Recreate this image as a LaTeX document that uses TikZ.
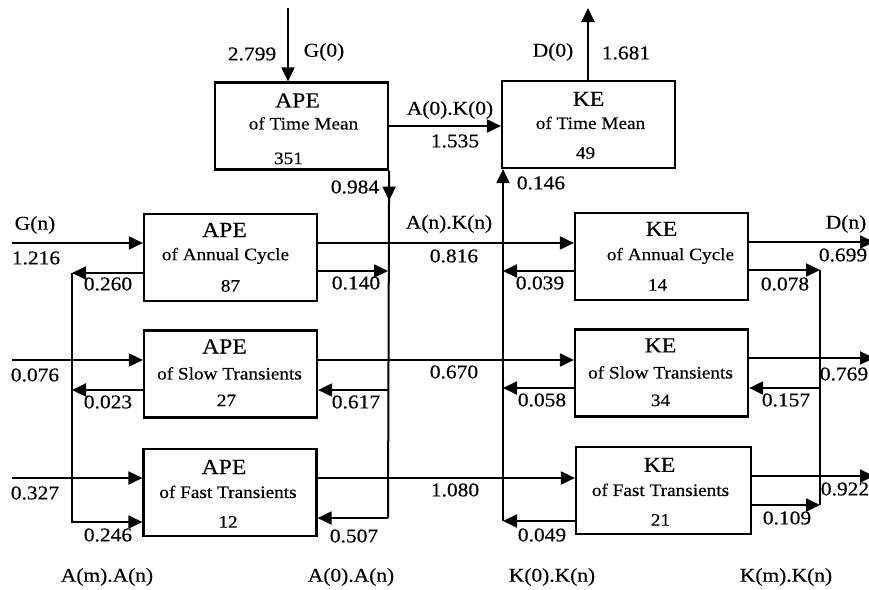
\documentclass[tikz,border=0pt]{standalone}
\usepackage{fontspec}
\setmainfont[FakeStretch=1.1,FakeBold=0.4]{Liberation Serif}
\usetikzlibrary{arrows.meta,calc}
\begin{document}
\begin{tikzpicture}[x=1pt,y=-1pt,
  box/.style={draw,line width=2.2pt,minimum width=173pt,minimum height=87pt,inner sep=0pt},
  flow/.style={line width=2pt},
  arr/.style={flow,-{Triangle[length=14pt,width=13pt]}},
  lab/.style={font=\fontsize{19.5}{21}\selectfont,inner sep=0pt},
  ttl/.style={font=\fontsize{21.5}{23}\selectfont,inner sep=0pt},
  sub/.style={font=\fontsize{17.5}{19}\selectfont,inner sep=0pt},
  val/.style={font=\fontsize{17.5}{19}\selectfont,inner sep=0pt}]
\useasboundingbox (0,0) rectangle (869,589);
\clip (0,0) rectangle (869,589);
% boxes
\node[box] (apeT) at (301.5,126) {};
\node[box] (keT) at (588.5,124.5) {};
\node[box] (apeA) at (230.5,257.5) {};
\node[box] (apeS) at (230.5,374) {};
\node[box] (apeF) at (230,492.5) {};
\node[box] (keA) at (661.5,256.5) {};
\node[box] (keS) at (661.5,373) {};
\node[box,minimum width=175pt] (keF) at (663.5,490.5) {};
% box texts
\node[ttl] (tApeT) at ($(apeT.north)+(-4,19)$) {APE};
\node[sub] (sApeT) at ($(apeT.north)+(2,42)$) {of Time Mean};
\node[val] (vApeT) at ($(apeT.north)+(-13,77)$) {351};
\node[ttl] (tKeT) at ($(keT.north)+(0,19)$) {KE};
\node[sub] (sKeT) at ($(keT.north)+(2,43)$) {of Time Mean};
\node[val] (vKeT) at ($(keT.north)+(-3,73)$) {49};
\node[ttl] (tApeA) at ($(apeA.north)+(-6,17)$) {APE};
\node[sub] (sApeA) at ($(apeA.north)+(-5,43)$) {of Annual Cycle};
\node[val] (vApeA) at ($(apeA.north)+(0,73)$) {87};
\node[ttl] (tApeS) at ($(apeS.north)+(-6,17)$) {APE};
\node[sub] (sApeS) at ($(apeS.north)+(-1,44)$) {of Slow Transients};
\node[val] (vApeS) at ($(apeS.north)+(-4,71)$) {27};
\node[ttl] (tApeF) at ($(apeF.north)+(-6,19)$) {APE};
\node[sub] (sApeF) at ($(apeF.north)+(-2,44)$) {of Fast Transients};
\node[val] (vApeF) at ($(apeF.north)+(-2,74)$) {12};
\node[ttl] (tKeA) at ($(keA.north)+(0,17)$) {KE};
\node[sub] (sKeA) at ($(keA.north)+(9,44)$) {of Annual Cycle};
\node[val] (vKeA) at ($(keA.north)+(-4,73)$) {14};
\node[ttl] (tKeS) at ($(keS.north)+(-1,17)$) {KE};
\node[sub] (sKeS) at ($(keS.north)+(-1,44)$) {of Slow Transients};
\node[val] (vKeS) at ($(keS.north)+(-1,72)$) {34};
\node[ttl] (tKeF) at ($(keF.north)+(-4,19)$) {KE};
\node[sub] (sKeF) at ($(keF.north)+(-3,44)$) {of Fast Transients};
\node[val] (vKeF) at ($(keF.north)+(-3,74)$) {21};
% coordinates
\coordinate (g0) at (288,8);
\coordinate (d0) at (588,8);
\coordinate (rbot) at (388,518);
\coordinate (rA) at (388,271);
\coordinate (rS) at (388,390);
\coordinate (inA) at (12,243);
\coordinate (inS) at (12,360);
\coordinate (inF) at (12,478);
\coordinate (outA) at (874,242);
\coordinate (outS) at (874,358);
\coordinate (outF) at (874,476);
\coordinate (la) at (72,273);
\coordinate (ls) at (72,390);
\coordinate (lb) at (72,522);
\coordinate (kA) at (503,271);
\coordinate (kS) at (503,388);
\coordinate (kF) at (503,521);
\coordinate (mA) at (820,270);
\coordinate (mS) at (820,388);
\coordinate (mF) at (820,505);
% time mean flows
\draw[arr] (g0) -- (g0 |- apeT.north);
\draw[arr] (apeT.east) -- (apeT.east -| keT.west);
\draw[arr] (d0 |- keT.north) -- (d0);
% APE right column
\draw[flow] (apeT.south east) -- (rbot);
\draw[arr] (apeT.south east) -- ++(0,30);
\draw[arr] (rA -| apeA.east) -- (rA);
\draw[arr] (rS) -- (rS -| apeS.east);
\draw[arr] (rbot) -- (rbot -| apeF.east);
% APE left column
\draw[arr] (la -| apeA.west) -- (la);
\draw[arr] (ls -| apeS.west) -- (ls);
\draw[arr] (la) -- (lb) -- (lb -| apeF.west);
% inputs
\draw[arr] (inA) -- (inA -| apeA.west);
\draw[arr] (inS) -- (inS -| apeS.west);
\draw[arr] (inF) -- (inF -| apeF.west);
% conversions
\draw[arr] (inA -| apeA.east) -- (inA -| keA.west);
\draw[arr] (inS -| apeS.east) -- (inS -| keS.west);
\draw[arr] (inF -| apeF.east) -- (inF -| keF.west);
% KE left column
\draw[arr] (kA -| keA.west) -- (kA);
\draw[arr] (kS -| keS.west) -- (kS);
\draw[arr] (kF -| keF.west) -- (kF);
\draw[arr] (kF) -- (kF |- keT.south);
% KE right column
\draw[arr] (mA -| keA.east) -- (mA);
\draw[flow] (mA) -- (mF);
\draw[arr] (mS) -- (mS -| keS.east);
\draw[arr] (mF -| keF.east) -- (mF);
% outputs
\draw[arr] (outA -| keA.east) -- (outA);
\draw[arr] (outS -| keS.east) -- (outS);
\draw[arr] (outF -| keF.east) -- (outF);
% labels
\node[lab] (l2799) at (252,54) {2.799};
\node[lab] (lG0) at (324,52) {G(0)};
\node[lab] (lA0K0) at (450,110) {A(0).K(0)};
\node[lab] (l1535) at (455,141) {1.535};
\node[lab] (lD0) at (553,52) {D(0)};
\node[lab] (l1681) at (626,53) {1.681};
\node[lab] (l0984) at (355,187) {0.984};
\node[lab] (l0146) at (541,183) {0.146};
\node[lab] (lGn) at (35,225) {G(n)};
\node[lab] (l1216) at (36,258) {1.216};
\node[lab] (lAnKn) at (449,224) {A(n).K(n)};
\node[lab] (l0816) at (454,256) {0.816};
\node[lab] (lDn) at (846,224) {D(n)};
\node[lab] (l0699) at (843,255) {0.699};
\node[lab] (l0260) at (108,284) {0.260};
\node[lab] (l0140) at (356,283) {0.140};
\node[lab] (l0039) at (540,283) {0.039};
\node[lab] (l0078) at (785,284) {0.078};
\node[lab] (l0076) at (35,375) {0.076};
\node[lab] (l0670) at (454,372) {0.670};
\node[lab] (l0769) at (844,374) {0.769};
\node[lab] (l0023) at (108,402) {0.023};
\node[lab] (l0617) at (356,402) {0.617};
\node[lab] (l0058) at (542,400) {0.058};
\node[lab] (l0157) at (786,400) {0.157};
\node[lab] (l0327) at (35,493) {0.327};
\node[lab] (l1080) at (455,490) {1.080};
\node[lab] (l0922) at (845,489) {0.922};
\node[lab] (l0246) at (108,535) {0.246};
\node[lab] (l0507) at (354,536) {0.507};
\node[lab] (l0049) at (542,535) {0.049};
\node[lab] (l0109) at (787,518) {0.109};
\node[lab] (lAmAn) at (107,577) {A(m).A(n)};
\node[lab] (lA0An) at (351,577) {A(0).A(n)};
\node[lab] (lK0Kn) at (552,577) {K(0).K(n)};
\node[lab] (lKmKn) at (786,577) {K(m).K(n)};
\end{tikzpicture}
\end{document}
